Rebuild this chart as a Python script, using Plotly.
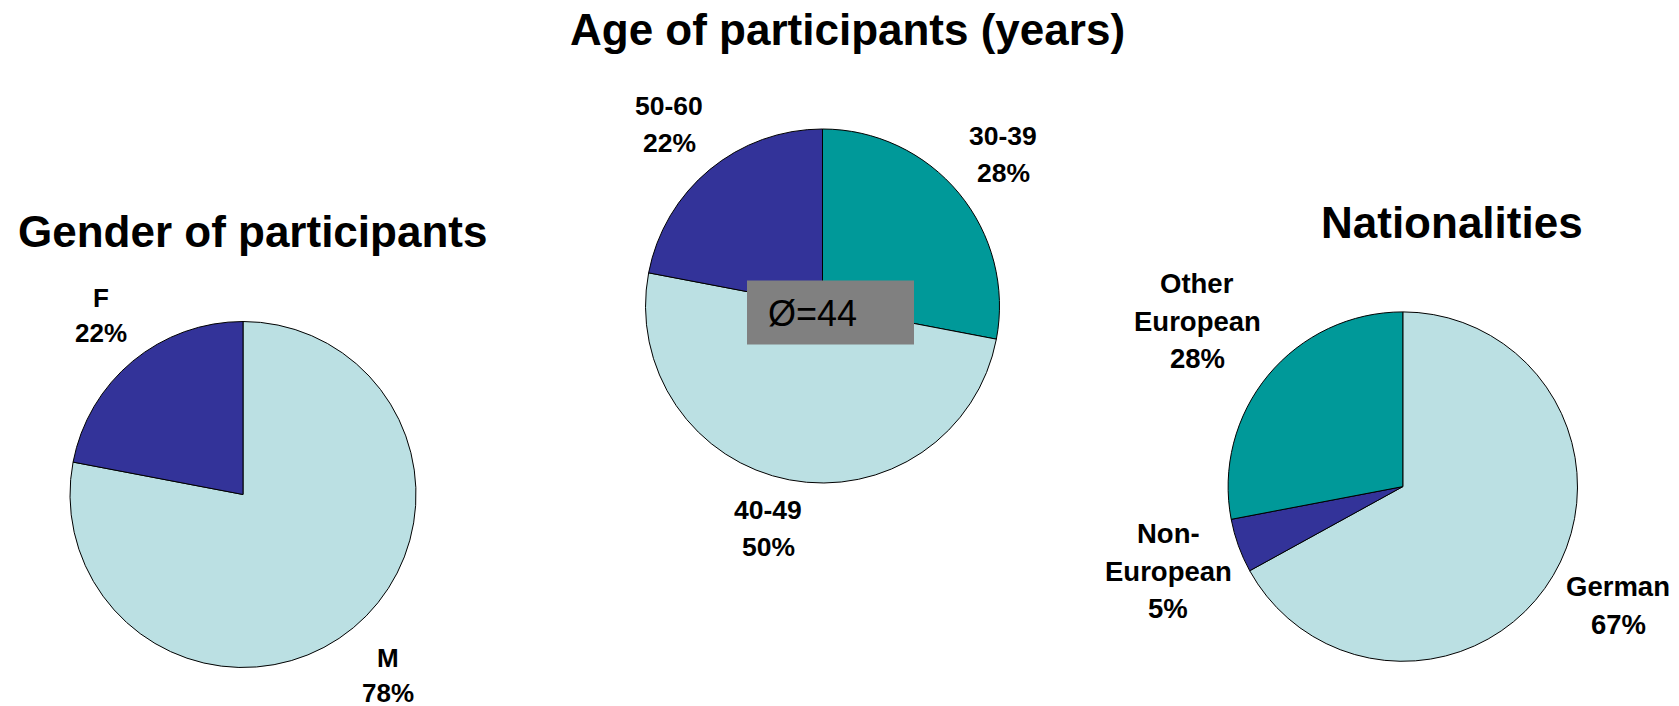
import plotly.graph_objects as go

# browser window and the default 8px body margin of the html page
WIN_W, WIN_H = 1679, 706
OFF = 8
W, H = WIN_W - OFF, WIN_H - OFF
FONT = "Liberation Sans, Arial, sans-serif"

# data (percent shares)
gender_labels = ["M", "F"]
gender_values = [78, 22]

age_labels = ["30-39", "40-49", "50-60"]
age_values = [28, 50, 22]
age_mean = 44

nat_labels = ["German", "Non-\nEuropean", "Other\nEuropean"]
nat_values = [67, 5, 28]

LIGHT = "#BBE0E3"
NAVY = "#333399"
TEAL = "#009999"


def px_x(x):
    return (x - OFF) / W


def px_y(y):
    return 1 - (y - OFF) / H


def px_domain(cx, cy, r):
    # screen centre/radius -> paper domain
    return dict(x=[px_x(cx - r), px_x(cx + r)], y=[px_y(cy + r), px_y(cy - r)])


charts = [
    dict(labels=gender_labels, values=gender_values, colors=[LIGHT, NAVY],
         center=(243, 494.5), r=173,
         title="Gender of participants", title_pos=(252, 231),
         label_pos=[(387.5, 658), (101, 298)], label_size=26, spacing=34.5),
    dict(labels=age_labels, values=age_values, colors=[TEAL, LIGHT, NAVY],
         center=(822.5, 306), r=177,
         title="Age of participants (years)", title_pos=(847, 29.5),
         label_pos=[(1003, 136), (768, 510.5), (669, 106)], label_size=26.5, spacing=36.5),
    dict(labels=nat_labels, values=nat_values, colors=[LIGHT, NAVY, TEAL],
         center=(1402.8, 486.6), r=174.7,
         title="Nationalities", title_pos=(1452, 223),
         label_pos=[(1618, 586.5), (1168, 533.5), (1197, 283.5)], label_size=27.5, spacing=37.5),
]

fig = go.Figure()
annotations = []

for ch in charts:
    fig.add_trace(go.Pie(
        labels=[l.replace("\n", " ") for l in ch["labels"]],
        values=ch["values"],
        sort=False,
        direction="clockwise",
        rotation=0,
        textinfo="none",
        marker=dict(colors=ch["colors"], line=dict(color="black", width=1)),
        domain=px_domain(*ch["center"], ch["r"]),
        showlegend=False,
        hoverinfo="label+percent",
    ))

    tx, ty = ch["title_pos"]
    annotations.append(dict(
        text=f"<b>{ch['title']}</b>", x=px_x(tx), y=px_y(ty),
        xref="paper", yref="paper", xanchor="center", yanchor="middle",
        showarrow=False, font=dict(family=FONT, size=44, color="black"),
    ))

    # slice labels, one annotation per line so the line spacing can match
    for label, val, (lx, ly) in zip(ch["labels"], ch["values"], ch["label_pos"]):
        lines = label.split("\n") + [f"{val}%"]
        for k, line in enumerate(lines):
            annotations.append(dict(
                text=f"<b>{line}</b>", x=px_x(lx), y=px_y(ly + k * ch["spacing"]),
                xref="paper", yref="paper", xanchor="center", yanchor="middle",
                showarrow=False, font=dict(family=FONT, size=ch["label_size"], color="black"),
            ))

# mean age box
annotations.append(dict(
    text=f"Ø={age_mean}", x=px_x(766), y=px_y(313),
    xref="paper", yref="paper", xanchor="left", yanchor="middle",
    showarrow=False, font=dict(family=FONT, size=36, color="black"),
))

fig.update_layout(
    width=W, height=H,
    margin=dict(l=0, r=0, t=0, b=0),
    paper_bgcolor="white",
    plot_bgcolor="white",
    annotations=annotations,
    shapes=[dict(type="rect", xref="paper", yref="paper",
                 x0=px_x(747), x1=px_x(914), y0=px_y(344.5), y1=px_y(280.5),
                 fillcolor="#808080", line=dict(width=0), layer="above")],
)

fig.write_html("out.html")
